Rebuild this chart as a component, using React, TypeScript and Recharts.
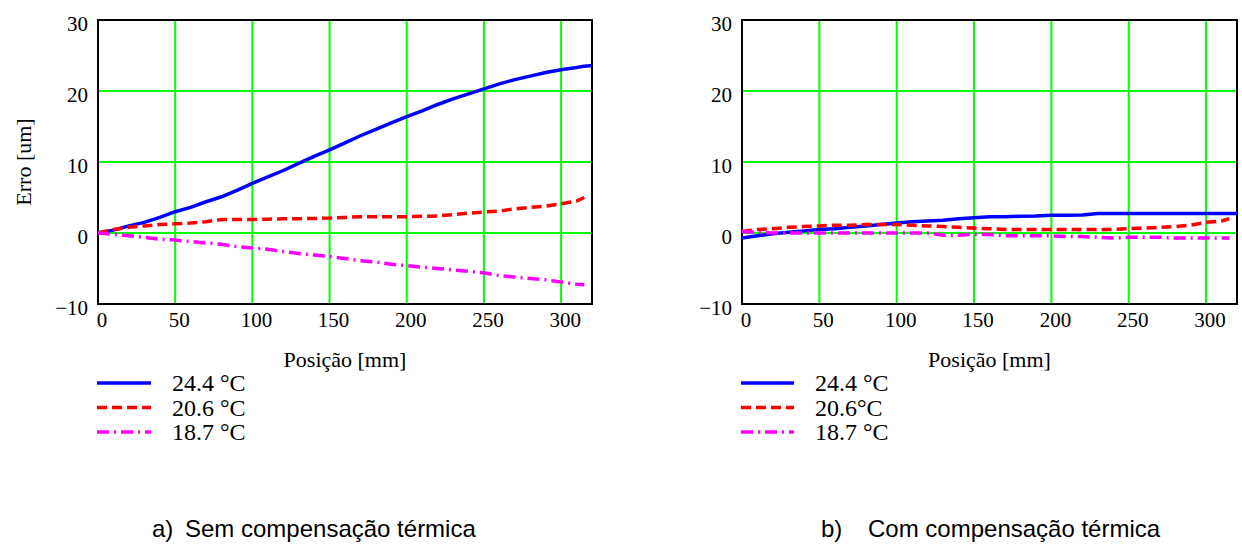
import React from 'react';
import { LineChart, Line, XAxis, YAxis, CartesianGrid, ReferenceArea } from 'recharts';

// positions [mm]
const positions = [0, 10, 20, 30, 40, 50, 60, 70, 80, 90, 100, 110, 120, 130, 140, 150, 160, 170, 180, 190, 200, 210, 220, 230, 240, 250, 260, 270, 280, 290, 300, 310, 315, 320];

// (a) Sem compensação térmica
const semT244 = [0, 0.4, 1.0, 1.5, 2.2, 3.0, 3.6, 4.4, 5.1, 6.0, 7.0, 7.9, 8.8, 9.8, 10.8, 11.7, 12.7, 13.7, 14.6, 15.5, 16.4, 17.2, 18.1, 18.9, 19.6, 20.3, 21.0, 21.6, 22.1, 22.6, 23.0, 23.3, 23.5, 23.6];
const semT206 = [0, 0.5, 0.8, 1.0, 1.2, 1.3, 1.4, 1.6, 1.9, 1.9, 1.9, 1.95, 2.0, 2.0, 2.05, 2.1, 2.2, 2.3, 2.3, 2.3, 2.3, 2.35, 2.4, 2.6, 2.8, 2.95, 3.1, 3.4, 3.6, 3.8, 4.1, 4.5, 5.0, null];
const semT187 = [0, -0.2, -0.4, -0.6, -0.9, -1.0, -1.2, -1.4, -1.6, -1.9, -2.1, -2.3, -2.6, -2.9, -3.1, -3.3, -3.6, -3.9, -4.1, -4.4, -4.6, -4.8, -5.0, -5.2, -5.4, -5.6, -6.0, -6.2, -6.4, -6.6, -6.9, -7.2, -7.3, null];

// (b) Com compensação térmica
const comT244 = [-0.7, -0.4, -0.1, 0.1, 0.3, 0.5, 0.6, 0.8, 1.0, 1.2, 1.4, 1.6, 1.7, 1.8, 2.0, 2.15, 2.3, 2.3, 2.35, 2.4, 2.5, 2.5, 2.55, 2.75, 2.75, 2.75, 2.75, 2.75, 2.75, 2.75, 2.75, 2.75, 2.75, 2.75];
const comT206 = [0.2, 0.5, 0.6, 0.8, 0.9, 1.0, 1.1, 1.1, 1.2, 1.2, 1.2, 1.1, 1.0, 0.9, 0.8, 0.7, 0.6, 0.5, 0.5, 0.5, 0.5, 0.5, 0.5, 0.5, 0.5, 0.6, 0.7, 0.8, 0.9, 1.1, 1.5, 1.7, 2.0, null];
const comT187 = [0.2, 0.1, 0.0, 0.0, 0.0, 0.0, 0.0, 0.0, 0.0, 0.0, 0.0, 0.0, 0.0, -0.3, -0.3, -0.2, -0.2, -0.4, -0.4, -0.4, -0.4, -0.5, -0.5, -0.6, -0.7, -0.6, -0.6, -0.6, -0.7, -0.7, -0.7, -0.7, -0.7, null];

const xTicks = [0, 50, 100, 150, 200, 250, 300];
const xTickLabels = ['0', '50', '100', '150', '200', '250', '300'];
const yTicks = [-10, 0, 10, 20, 30];
const yTickLabels = ['\u221210', '0', '10', '20', '30'];

const namesA = ['24.4 °C', '20.6 °C', '18.7 °C'];
const namesB = ['24.4 °C', '20.6°C', '18.7 °C'];
const keys = ['t244', 't206', 't187'];
const colors = ['#0000ff', '#ff0000', '#ff00ff'];
const dashes = ['', '10 5', '12 5 2 5'];

const xLabel = 'Posição [mm]';
const yLabel = 'Erro [um]';
const captionA = ['a)', 'Sem compensação térmica'];
const captionB = ['b)', 'Com compensação térmica'];

const build = (a: (number | null)[], b: (number | null)[], c: (number | null)[]) =>
  positions.map((p, i) => ({ x: p, t244: a[i], t206: b[i], t187: c[i] }));

const dataA = build(semT244, semT206, semT187);
const dataB = build(comT244, comT206, comT187);

const SERIF = 'Liberation Serif, Times New Roman, serif';
const SANS = 'Liberation Sans, Arial, sans-serif';
const serifStyle = { fontFamily: SERIF };
const sansStyle = { fontFamily: SANS };

const XTick = (props: any) => {
  const { x, y, payload } = props;
  const idx = xTicks.indexOf(payload.value);
  return (
    <text x={x + 4} y={y} dy={15} textAnchor="middle" style={serifStyle} fontSize={21} fill="#000">
      {idx >= 0 ? xTickLabels[idx] : payload.value}
    </text>
  );
};

const YTick = (props: any) => {
  const { x, y, payload } = props;
  const idx = yTicks.indexOf(payload.value);
  return (
    <text x={x} y={y} dy={11} textAnchor="end" style={serifStyle} fontSize={21} fill="#000">
      {idx >= 0 ? yTickLabels[idx] : payload.value}
    </text>
  );
};

const Panel = ({ data, yWidth, marginRight, width, showYLabel }: any) => (
  <LineChart width={width} height={376} data={data} margin={{ top: 20, right: marginRight, bottom: 8, left: 0 }}>
    <CartesianGrid stroke="#00ff00" strokeWidth={2} />
    <XAxis
      dataKey="x"
      type="number"
      domain={[0, 320]}
      ticks={xTicks}
      interval={0}
      height={64}
      tickLine={false}
      axisLine={false}
      tickSize={6}
      tickMargin={2}
      tick={<XTick />}
      label={{ value: xLabel, position: 'insideBottom', offset: 1, fontSize: 22, fill: '#000', style: serifStyle }}
    />
    <YAxis
      type="number"
      domain={[-10, 30]}
      ticks={yTicks}
      interval={0}
      width={yWidth}
      tickLine={false}
      axisLine={false}
      tickSize={6}
      tickMargin={4}
      tick={<YTick />}
      label={
        showYLabel
          ? { value: yLabel, angle: -90, position: 'insideLeft', offset: 23, fontSize: 22, fill: '#000', style: { textAnchor: 'middle', fontFamily: SERIF } }
          : undefined
      }
    />
    <ReferenceArea x1={0} x2={320} y1={-10} y2={30} fill="none" stroke="#000" strokeWidth={2} ifOverflow="visible" />
    {keys.map((k, i) => (
      <Line
        key={k}
        dataKey={k}
        type="linear"
        stroke={colors[i]}
        strokeWidth={3.5}
        strokeDasharray={dashes[i] || undefined}
        dot={false}
        activeDot={false}
        connectNulls={false}
        isAnimationActive={false}
      />
    ))}
  </LineChart>
);

const LegendBlock = ({ names, lineX1, lineX2, textX }: any) => (
  <g>
    {names.map((n: string, i: number) => {
      const cy = 383 + i * 24.5;
      return (
        <g key={n + i}>
          <line x1={lineX1} x2={lineX2} y1={cy} y2={cy} stroke={colors[i]} strokeWidth={3.5} strokeDasharray={dashes[i] || undefined} />
          <text x={textX} y={cy + 8} style={serifStyle} fontSize={24} fill="#000">{n}</text>
        </g>
      );
    })}
  </g>
);

export default function App() {
  return (
    <div style={{ position: 'absolute', left: 0, top: 0, width: 1242, height: 548, background: '#fff', overflow: 'hidden' }}>
      <div style={{ position: 'absolute', left: 0, top: 0 }}>
        <Panel data={dataA} yWidth={98} marginRight={48} width={640} showYLabel />
      </div>
      <div style={{ position: 'absolute', left: 620, top: 0 }}>
        <Panel data={dataB} yWidth={122} marginRight={5} width={622} showYLabel={false} />
      </div>
      <svg width={1242} height={548} style={{ position: 'absolute', left: 0, top: 0, pointerEvents: 'none' }}>
        <LegendBlock names={namesA} lineX1={97} lineX2={151} textX={172} />
        <LegendBlock names={namesB} lineX1={741} lineX2={794} textX={815} />
        <text x={152} y={537} style={sansStyle} fontSize={24} fill="#000">{captionA[0]}</text>
        <text x={185} y={537} style={sansStyle} fontSize={24} fill="#000">{captionA[1]}</text>
        <text x={821} y={537} style={sansStyle} fontSize={24} fill="#000">{captionB[0]}</text>
        <text x={868} y={537} style={sansStyle} fontSize={24} fill="#000">{captionB[1]}</text>
      </svg>
    </div>
  );
}
